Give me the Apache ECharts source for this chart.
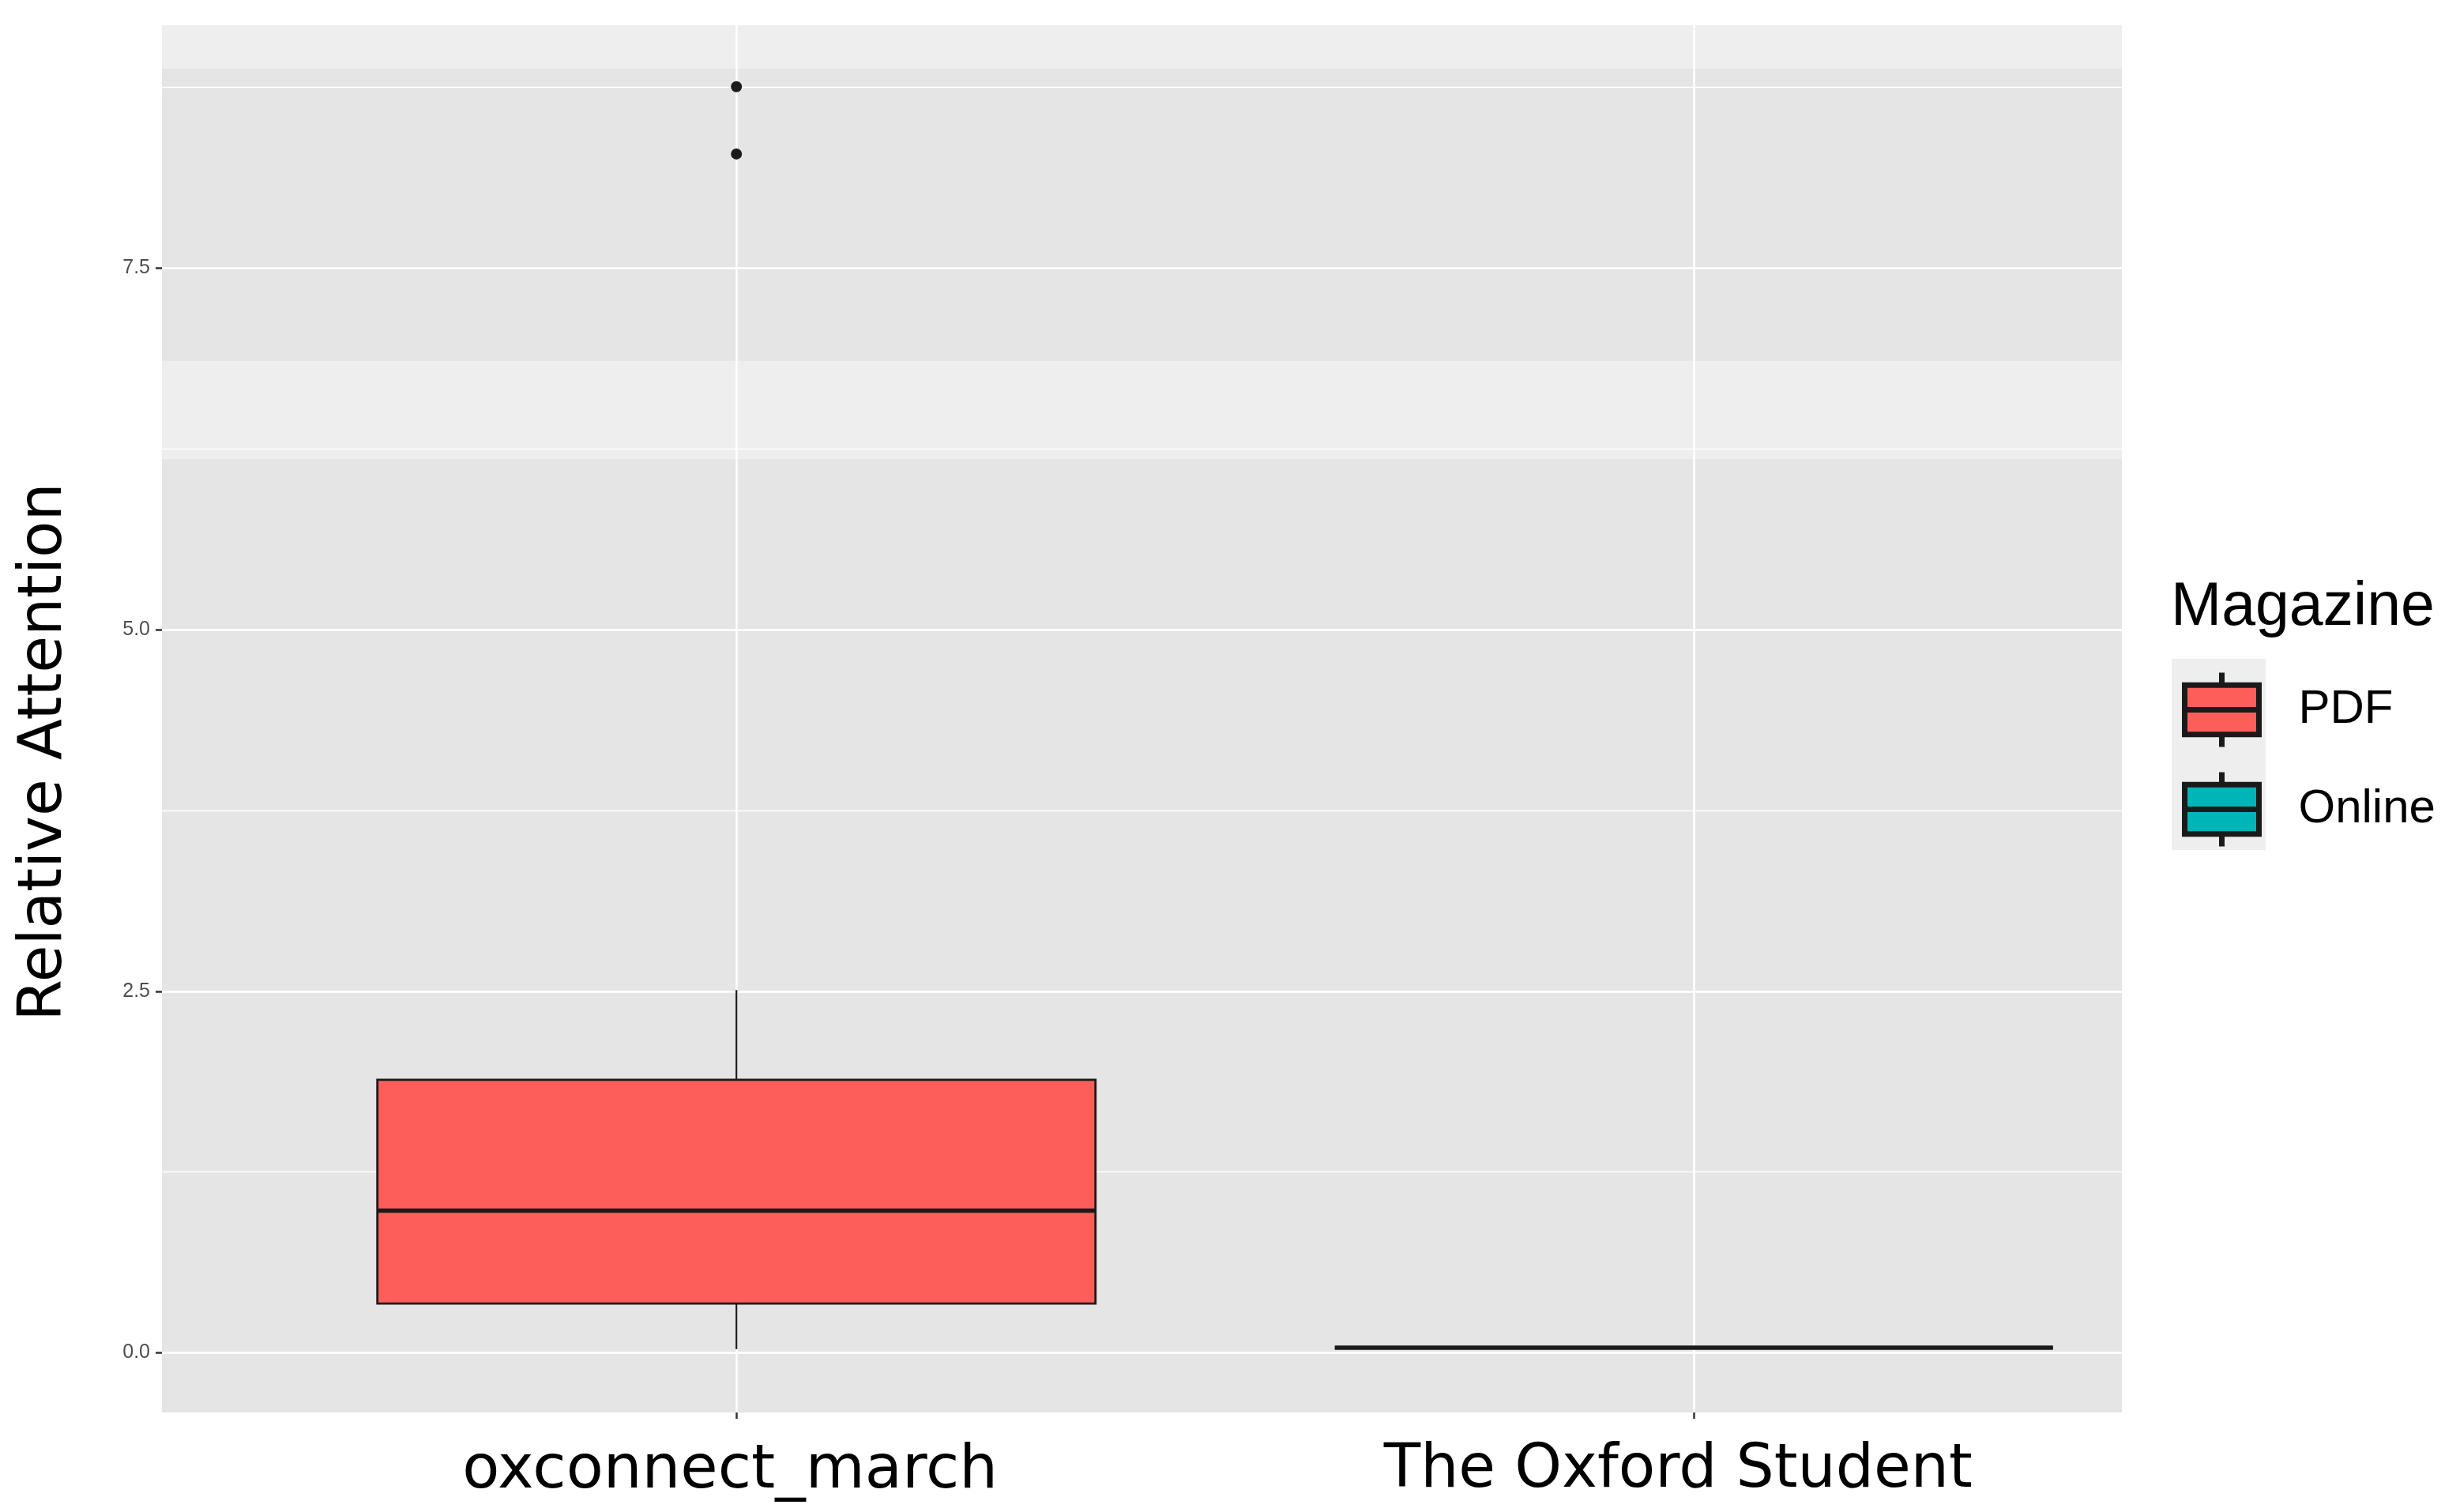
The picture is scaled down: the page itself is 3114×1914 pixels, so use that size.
<!DOCTYPE html>
<html>

<head>
    <meta charset="utf-8">
    <script type="text/javascript" src="https://cdn.jsdelivr.net/npm/echarts@6/dist/echarts.min.js"></script>
    <title>Relative Attention</title>
    <style>
        html, body { margin: 0; padding: 0; background: #fff; }
    </style>
</head>

<body>
    <div id="container" style="width:3114px;height:1914px;"></div>
    <script type="text/javascript">
    // categories on the x axis (positions 1 and 2)
    var categories = ['oxconnect_march', 'The Oxford Student'];
    var magazines = ['PDF', 'Online'];
    // box stats: [low whisker, q1, median, q3, high whisker]
    var pdfStats = [0.025, 0.34, 0.983, 1.888, 2.508];
    var onlineStats = [0.035, 0.035, 0.035, 0.035, 0.035];
    var pdfOutliers = [8.29, 8.755];
    // y ticks
    var yTicks = [0, 2.5, 5, 7.5];
    var yMinorTicks = [1.25, 3.75, 6.25, 8.75];
    // the lighter horizontal bands seen in the panel
    var lightBands = [[8.88, 9.18], [6.18, 6.86]];

    var boxWidth = 0.75;
    var colors = { PDF: '#FE5E5A', Online: '#00B5B8' };
    var ink = '#1a1a1a';

    var myChart = echarts.init(document.getElementById('container'));

    function renderBox(params, api) {
        var x = api.value(0);
        var lo = api.coord([x, api.value(1)]);
        var q1 = api.coord([x, api.value(2)]);
        var med = api.coord([x, api.value(3)]);
        var q3 = api.coord([x, api.value(4)]);
        var hi = api.coord([x, api.value(5)]);
        var half = api.size([boxWidth, 0])[0] / 2;
        var cx = med[0];
        return {
            type: 'group',
            children: [
                { type: 'line', shape: { x1: cx, y1: lo[1], x2: cx, y2: q1[1] }, style: { stroke: ink, lineWidth: 2.2 } },
                { type: 'line', shape: { x1: cx, y1: hi[1], x2: cx, y2: q3[1] }, style: { stroke: ink, lineWidth: 2.2 } },
                { type: 'rect', shape: { x: cx - half, y: q3[1], width: half * 2, height: q1[1] - q3[1] },
                  style: { fill: api.visual('color'), stroke: ink, lineWidth: 2.8 } },
                { type: 'line', shape: { x1: cx - half, y1: med[1], x2: cx + half, y2: med[1] }, style: { stroke: ink, lineWidth: 5.5 } }
            ]
        };
    }

    // boxplot glyph for the legend
    var boxIcon = 'path://M24,0L24,8M0,8L48,8L48,40L0,40ZM0,24L48,24M24,40L24,48';

    var bgAreas = [[{ yAxis: -0.413, itemStyle: { color: '#E5E5E5' } }, { yAxis: 9.18 }]];
    lightBands.forEach(function(b) {
        bgAreas.push([{ yAxis: b[0], itemStyle: { color: '#EEEEEE' } }, { yAxis: b[1] }]);
    });

    var option = {
        backgroundColor: '#ffffff',
        animation: false,
        grid: { left: 205, right: 428, top: 32, bottom: 126 },
        title: {
            text: 'Magazine',
            left: 2748,
            top: 731,
            padding: 0,
            textStyle: { fontFamily: 'Liberation Sans', fontSize: 77, fontWeight: 'normal', color: '#000' }
        },
        legend: {
            orient: 'vertical',
            left: 2762,
            top: 848,
            padding: 0,
            itemWidth: 94,
            itemHeight: 96,
            itemGap: 25,
            textStyle: { fontFamily: 'Liberation Sans', fontSize: 60, color: '#000', padding: [0, 0, 0, 45] },
            data: magazines.map(function(m) {
                return { name: m, icon: boxIcon, itemStyle: { color: colors[m], borderColor: ink, borderWidth: 7 } };
            })
        },
        graphic: [{
            type: 'rect',
            left: 2749,
            top: 834,
            shape: { width: 119, height: 242 },
            style: { fill: '#EEEEEE' },
            z: 0
        }],
        xAxis: {
            type: 'value',
            min: 0.4,
            max: 2.447,
            z: 1,
            axisLine: { show: false, onZero: false },
            axisTick: { show: true, customValues: [1, 2], length: 8, lineStyle: { color: '#333', width: 2.5 } },
            axisLabel: {
                customValues: [1, 2],
                margin: 36,
                color: '#000',
                formatter: function(v) {
                    return Math.round(v) === 1 ? '{a|' + categories[0] + '}' : '{b|' + categories[1] + '}';
                },
                rich: {
                    a: { fontFamily: 'DejaVu Sans', fontSize: 77, color: '#000', padding: [0, 16, 0, 0] },
                    b: { fontFamily: 'DejaVu Sans', fontSize: 76, color: '#000', padding: [0, 40, 0, 0] }
                }
            },
            splitLine: { show: true, lineStyle: { color: '#ffffff', width: 2.5 } }
        },
        yAxis: [{
            type: 'value',
            min: -0.413,
            max: 9.18,
            z: 1,
            name: 'Relative Attention',
            nameLocation: 'middle',
            nameGap: 110,
            nameTextStyle: { fontFamily: 'DejaVu Sans', fontSize: 76, color: '#000', padding: [0, 84, 0, 0] },
            axisLine: { show: false },
            axisTick: { show: true, customValues: yTicks, length: 8, lineStyle: { color: '#333', width: 2.5 } },
            axisLabel: {
                customValues: yTicks,
                margin: 15,
                fontFamily: 'Liberation Sans',
                fontSize: 25,
                color: '#4D4D4D',
                formatter: function(v) { return v.toFixed(1); }
            },
            splitLine: { show: true, lineStyle: { color: '#ffffff', width: 2.5 } }
        }, {
            type: 'value',
            min: -0.413,
            max: 9.18,
            z: 1,
            position: 'left',
            axisLine: { show: false },
            axisTick: { show: false, customValues: yMinorTicks },
            axisLabel: { show: false, customValues: yMinorTicks },
            splitLine: { show: true, lineStyle: { color: '#ffffff', width: 1.3 } }
        }],
        series: [{
            name: 'panel',
            type: 'line',
            data: [],
            z: -1,
            silent: true,
            markArea: { silent: true, z: -1, data: bgAreas }
        }, {
            name: 'PDF',
            type: 'custom',
            renderItem: renderBox,
            itemStyle: { color: colors.PDF },
            encode: { x: 0, y: [1, 2, 3, 4, 5] },
            data: [[1].concat(pdfStats)],
            z: 2
        }, {
            name: 'Online',
            type: 'custom',
            renderItem: renderBox,
            itemStyle: { color: colors.Online },
            encode: { x: 0, y: [1, 2, 3, 4, 5] },
            data: [[2].concat(onlineStats)],
            z: 2
        }, {
            name: 'PDF outliers',
            type: 'scatter',
            symbolSize: 14,
            itemStyle: { color: ink, opacity: 1 },
            data: pdfOutliers.map(function(v) { return [1, v]; }),
            z: 3
        }]
    };

    myChart.setOption(option);
    </script>
</body>

</html>
